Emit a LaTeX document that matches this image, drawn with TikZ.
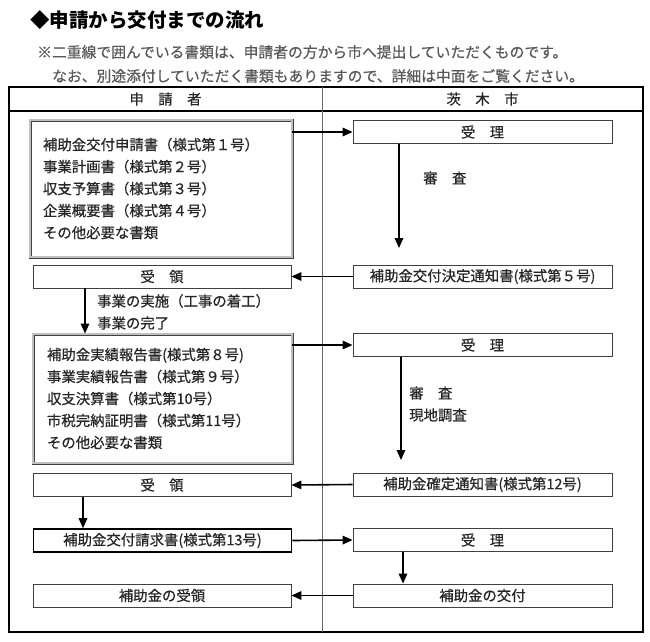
\documentclass[tikz,border=0pt]{standalone}
\usepackage{fontspec}
\setmainfont{Noto Sans CJK JP}
\newfontfamily\jpmed{Noto Sans CJK JP}[FakeBold=0.6]
\usetikzlibrary{arrows.meta}

\begin{document}
\begin{tikzpicture}[x=1pt, y=-1pt,
	every node/.style={font=\jpmed\fontsize{14.4}{22}\selectfont, text=black!85, inner sep=0pt},
	box/.style={draw=black!75, line width=0.8pt, minimum height=23pt},
	lbox/.style={box, minimum width=258pt},
	rbox/.style={box, minimum width=259pt},
	dbox/.style={draw=black!75, double=black!25, double distance=1.2pt, line width=0.9pt, align=left},
	arr/.style={line width=1.6pt, -{Triangle[length=10pt, width=8.5pt]}}]
	\useasboundingbox (0,0) rectangle (650,641);

	\node[anchor=west, font=\fontsize{19.5}{24}\selectfont\bfseries, text=black] (title) at (30,20) {◆申請から交付までの流れ};
	\node[anchor=west, font=\jpmed\fontsize{14.8}{20}\selectfont, text=black!65] (note1) at (37,52) {※二重線で囲んでいる書類は、申請者の方から市へ提出していただくものです。};
	\node[anchor=west, font=\jpmed\fontsize{14.8}{20}\selectfont, text=black!65] (note2) at (52,76) {なお、別途添付していただく書類もありますので、詳細は中面をご覧ください。};

	% frame
	\draw[line width=1.8pt] (9,87) rectangle (643,632);
	\draw[line width=1.4pt] (9,111) -- (643,111);
	\draw[gray!80!black, line width=0.8pt] (322,87) -- (322,632);
	\node (hdA) at (165.5,99) {申　請　者};
	\node (hdB) at (482.5,99) {茨　木　市};

	% applicant side
	\node[dbox, minimum width=262pt, minimum height=137pt, text width=236pt] (apl1) at (161,188.5) {補助金交付申請書（様式第１号）\\事業計画書（様式第２号）\\収支予算書（様式第３号）\\企業概要書（様式第４号）\\その他必要な書類};
	\node[lbox] (rcv1) at (162,276.5) {受　領};
	\node[dbox, minimum width=259pt, minimum height=129pt, text width=231pt] (apl2) at (162.5,398.5) {補助金実績報告書(様式第８号)\\事業実績報告書（様式第９号）\\収支決算書（様式第10号）\\市税完納証明書（様式第11号）\\その他必要な書類};
	\node[lbox] (rcv2) at (162,485) {受　領};
	\node[lbox, draw=black, line width=1.6pt] (req) at (162.5,540.5) {補助金交付請求書(様式第13号)};
	\node[lbox] (got) at (162,595.5) {補助金の受領};

	% city side
	\node[rbox] (rec1) at (482.5,132) {受　理};
	\node[rbox] (dec1) at (482.5,276.5) {補助金交付決定通知書(様式第５号)};
	\node[rbox] (rec2) at (482.5,345) {受　理};
	\node[rbox] (fix1) at (482.5,484.5) {補助金確定通知書(様式第12号)};
	\node[rbox] (rec3) at (482.5,540) {受　理};
	\node[rbox] (pay) at (482.5,595.5) {補助金の交付};

	\node[anchor=west] (lbl1) at (423,178) {審　査};
	\node[anchor=west] (lbl2) at (97,301) {事業の実施（工事の着工）};
	\node[anchor=west] (lbl3) at (97,323) {事業の完了};
	\node[anchor=west] (lbl4) at (409,393) {審　査};
	\node[anchor=west] (lbl5) at (409,415) {現地調査};

	\coordinate (chk1) at (399,248);
	\coordinate (chk2) at (401,460);
	\coordinate (d1) at (85,0);
	\coordinate (d2) at (83,0);
	\coordinate (d3) at (403,0);

	\draw[arr] (apl1.east |- rec1) -- (rec1.west);
	\draw[arr] (rec1.south -| chk1) -- (chk1);
	\draw[arr] (dec1.west) -- (rcv1.east);
	\draw[arr] (rcv1.south -| d1) -- (apl2.north -| d1);
	\draw[arr] (apl2.east |- rec2) -- (rec2.west);
	\draw[arr] (rec2.south -| chk2) -- (chk2);
	\draw[arr] (fix1.west) -- (rcv2.east);
	\draw[arr] (rcv2.south -| d2) -- (req.north -| d2);
	\draw[arr] (req.east) -- (rec3.west);
	\draw[arr] (rec3.south -| d3) -- (pay.north -| d3);
	\draw[arr] (pay.west) -- (got.east);
\end{tikzpicture}
\end{document}
